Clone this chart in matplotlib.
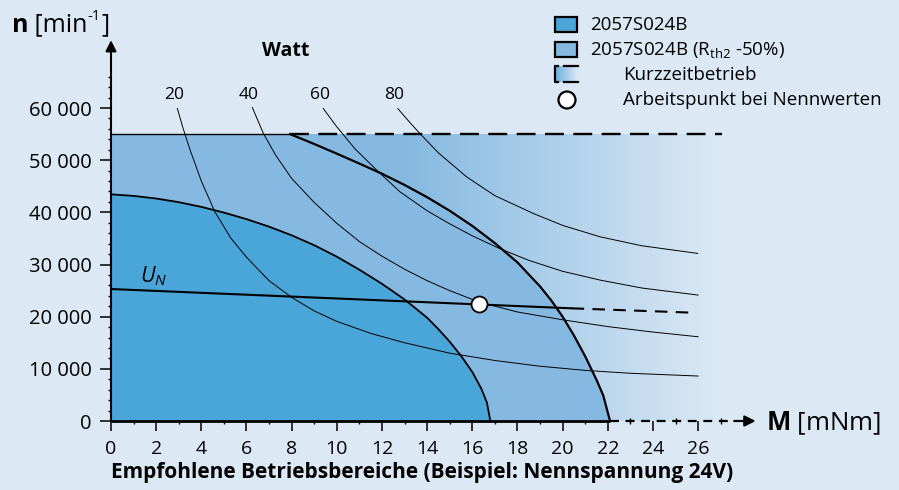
import matplotlib
matplotlib.use("Agg")
import matplotlib.pyplot as plt
import numpy as np
from matplotlib.colors import to_rgb
from matplotlib.patches import Rectangle, Circle

plt.rcParams["font.family"] = ["Open Sans", "DejaVu Sans"]
plt.rcParams["mathtext.fontset"] = "custom"
plt.rcParams["mathtext.rm"] = "Open Sans"
plt.rcParams["mathtext.it"] = "Open Sans:italic"
plt.rcParams["mathtext.bf"] = "Open Sans:bold"

BG = "#dce9f5"
DARK = "#4aa5d8"
LIGHT = "#85b9e1"

# --- data (M in mNm, n in 1/min) ---
dark_M = [0, 1, 2, 3, 4, 5, 6, 7, 8, 9, 10, 11, 12, 13, 14, 14.5, 15, 15.5,
          16, 16.4, 16.65, 16.8]
dark_n = [43450, 43150, 42650, 41950, 41050, 39950, 38700, 37250, 35600, 33700,
          31500, 29000, 26300, 23300, 19800, 17600, 15200, 12500, 9400, 6200,
          3500, 0]

light_M = [0, 7.93, 9, 10, 11, 12, 13, 14, 15, 16, 17, 18, 19, 19.5, 20, 20.5,
           21, 21.5, 21.8, 22.1]
light_n = [55000, 55000, 53100, 51250, 49350, 47400, 45250, 42900, 40300, 37400,
           34100, 30400, 25800, 23100, 20000, 16400, 12400, 7900, 4900, 0]

n_max = 55000
M_short_end = 27.06

un_M = [0, 20.4, 25.86]
un_n = [25300, 21600, 20750]

op_M, op_n = 16.31, 22410

watt_labels = ["20", "40", "60", "80"]
watt_label_M = [2.79, 6.11, 9.26, 12.53]
p20_M = [2.94, 3.2, 3.5, 4.0, 4.6, 5.3, 6.0, 7.0, 8.0, 9.0, 10.0, 11.5, 13.0,
         15.0, 17.0, 19.0, 21.0, 23.0, 26.0]
p20_n = [59900, 56000, 52000, 46000, 40100, 35100, 31400, 26900, 23700, 21100,
         19100, 16800, 15000, 13000, 11600, 10500, 9700, 9150, 8620]
p40_M = [6.26, 6.75, 7.3, 8.0, 9.0, 10.0, 11.0, 12.0, 13.0, 14.0, 15.0, 16.3,
         18.0, 20.0, 22.0, 24.0, 26.0]
p40_n = [60100, 55100, 50900, 46500, 41900, 37900, 34400, 31600, 29100, 26900,
         25000, 22800, 20900, 19400, 18100, 17050, 16150]
p60_M = [9.4, 10.0, 10.8, 11.77, 12.8, 14.0, 15.0, 16.0, 17.2, 18.5, 20.0,
         21.66, 23.5, 26.0]
p60_n = [59900, 56400, 52200, 48080, 43930, 40300, 37800, 35500, 33080, 30800,
         28700, 27010, 25500, 24140]
p80_M = [12.7, 13.2, 13.68, 14.5, 15.75, 17.0, 18.7, 20.0, 21.66, 23.5, 25.98]
p80_n = [59900, 57400, 55100, 51400, 46800, 43200, 39790, 37500, 35310, 33600,
         32130]

x_major = list(range(0, 27, 2))
x_minor = list(range(1, 28, 2))
y_major = [0, 10000, 20000, 30000, 40000, 50000, 60000]
y_major_labels = ["0", "10 000", "20 000", "30 000", "40 000", "50 000", "60 000"]
y_minor = [v for v in range(2000, 68000, 2000) if v % 10000 != 0]

fig = plt.figure(figsize=(8.99, 4.90), dpi=100, facecolor=BG)
ax = fig.add_axes([111 / 899, 69 / 490, 645.8 / 899, 380.8 / 490])
ax.set_facecolor("none")
ax.set_xlim(0, 28.6)
ax.set_ylim(0, 73000)
for s in ax.spines.values():
    s.set_visible(False)

# gradient for short-term operation area
c0 = np.array(to_rgb(LIGHT))
c1 = np.array(to_rgb(BG))
xs = np.linspace(0, M_short_end, 400)
t = np.clip((xs - 13.0) / (M_short_end - 13.0), 0, 1)[:, None]
grad = (c0 * (1 - t) + c1 * t)[None, :, :]
ax.imshow(grad, extent=[0, M_short_end, 0, n_max], aspect="auto", zorder=1,
          interpolation="bilinear")

ax.fill(light_M + [0], light_n + [0], color=LIGHT, zorder=2, lw=0)
ax.fill(dark_M + [0], dark_n + [0], color=DARK, zorder=3, lw=0)
ax.plot(light_M[:2], light_n[:2], color="black", lw=1.0, zorder=5)
ax.plot(light_M[1:], light_n[1:], color="black", lw=1.6, zorder=5)
ax.plot(dark_M, dark_n, color="black", lw=1.3, zorder=5)
ax.plot([light_M[1], M_short_end], [n_max, n_max], color="black", lw=1.7,
        dashes=(8, 4), zorder=5)

for pm, pn in [(p20_M, p20_n), (p40_M, p40_n), (p60_M, p60_n), (p80_M, p80_n)]:
    ax.plot(pm, pn, color="black", lw=0.7, zorder=4)
for lab, lm in zip(watt_labels, watt_label_M):
    ax.text(lm, 62450, lab, ha="center", va="center", fontsize=12.5, zorder=6)
ax.text(7.75, 71000, "Watt", ha="center", va="center", fontsize=14,
        fontweight="bold", zorder=6)

ax.plot(un_M[:2], un_n[:2], color="black", lw=1.5, zorder=6)
ax.plot(un_M[1:], un_n[1:], color="black", lw=1.5, dashes=(6, 4), zorder=6)
ax.text(1.3, 27700, r"$U_N$", ha="left", va="center", fontsize=15.5, zorder=6)
ax.plot([op_M], [op_n], marker="o", ms=11.5, mfc="white", mec="black",
        mew=1.3, zorder=7)

# axes lines with arrows
ax.annotate("", xy=(0, 73000), xytext=(0, 0),
            arrowprops=dict(arrowstyle="-|>", color="black", lw=1.5,
                            mutation_scale=16, shrinkA=0, shrinkB=0), zorder=8)
ax.plot([0, light_M[-1]], [0, 0], color="black", lw=2.0, zorder=8,
        solid_capstyle="butt", clip_on=False)
ax.plot([light_M[-1], 27.6], [0, 0], color="black", lw=1.6, dashes=(4, 3),
        zorder=8, clip_on=False)
ax.annotate("", xy=(28.55, 0), xytext=(27.6, 0),
            arrowprops=dict(arrowstyle="-|>", color="black", lw=1.6,
                            mutation_scale=16, shrinkA=0, shrinkB=0), zorder=8)

ax.set_xticks(x_major)
ax.set_xticks(x_minor, minor=True)
ax.set_yticks(y_major, y_major_labels)
ax.set_yticks(y_minor, minor=True)
ax.tick_params(axis="x", which="major", direction="out", length=7, width=1.1,
               labelsize=14, pad=7)
ax.tick_params(axis="x", which="minor", direction="inout", length=4, width=1.0)
ax.tick_params(axis="y", which="major", direction="out", length=8, width=1.1,
               labelsize=14.5, pad=6)
ax.tick_params(axis="y", which="minor", direction="out", length=2.5, width=1.0)

# overlay in pixel coordinates for labels and legend
ov = fig.add_axes([0, 0, 1, 1])
ov.set_xlim(0, 899)
ov.set_ylim(490, 0)
ov.axis("off")
ov.patch.set_alpha(0)

t_n = ov.text(12, 25, "n", ha="left", va="center", fontsize=18, fontweight="bold")
t_min = ov.annotate(" [min", xy=(1, 0), xycoords=t_n, ha="left", va="bottom",
                    fontsize=18)
t_exp = ov.annotate("-1", xy=(1, 0.55), xycoords=t_min, ha="left", va="bottom",
                    fontsize=10.5)
ov.annotate("]", xy=(1, 0), xycoords=(t_exp, t_min), ha="left", va="bottom",
            fontsize=18)

ov.text(766, 423, r"$\mathbf{M}$ [mNm]", ha="left", va="center", fontsize=18.5)
ov.text(422, 472, "Empfohlene Betriebsbereiche (Beispiel: Nennspannung 24V)",
        ha="center", va="center", fontsize=15, fontweight="bold")

ov.add_patch(Rectangle((555, 17), 22, 15, fc=DARK, ec="black", lw=1.6))
ov.add_patch(Rectangle((555, 42), 22, 15, fc=LIGHT, ec="black", lw=1.6))
ov.text(590, 24.5, "2057S024B", ha="left", va="center", fontsize=13.5)
ov.text(590, 49.5, r"2057S024B (R$_{\mathrm{th2}}$ -50%)", ha="left",
        va="center", fontsize=13.5)

lg = np.linspace(0, 1, 50)[:, None]
lgrad = (np.array(to_rgb("#6cb0e0")) * (1 - lg) + c1 * lg)[None, :, :]
ov.imshow(lgrad, extent=[555, 578, 82, 66], aspect="auto", zorder=1)
ov.plot([558, 555, 555, 558], [66, 66, 82, 82], color="black", lw=1.6)
ov.plot([564, 578], [66, 66], color="black", lw=1.6)
ov.plot([564, 578], [82, 82], color="black", lw=1.6)
ov.set_xlim(0, 899)
ov.set_ylim(490, 0)
ov.text(623, 75, "Kurzzeitbetrieb", ha="left", va="center", fontsize=13.5)

ov.add_patch(Circle((567, 100), 8.5, fc="white", ec="black", lw=1.6))
ov.text(623, 100, "Arbeitspunkt bei Nennwerten", ha="left", va="center",
        fontsize=13.5)

fig.savefig("out.png", dpi=100, facecolor=BG)
